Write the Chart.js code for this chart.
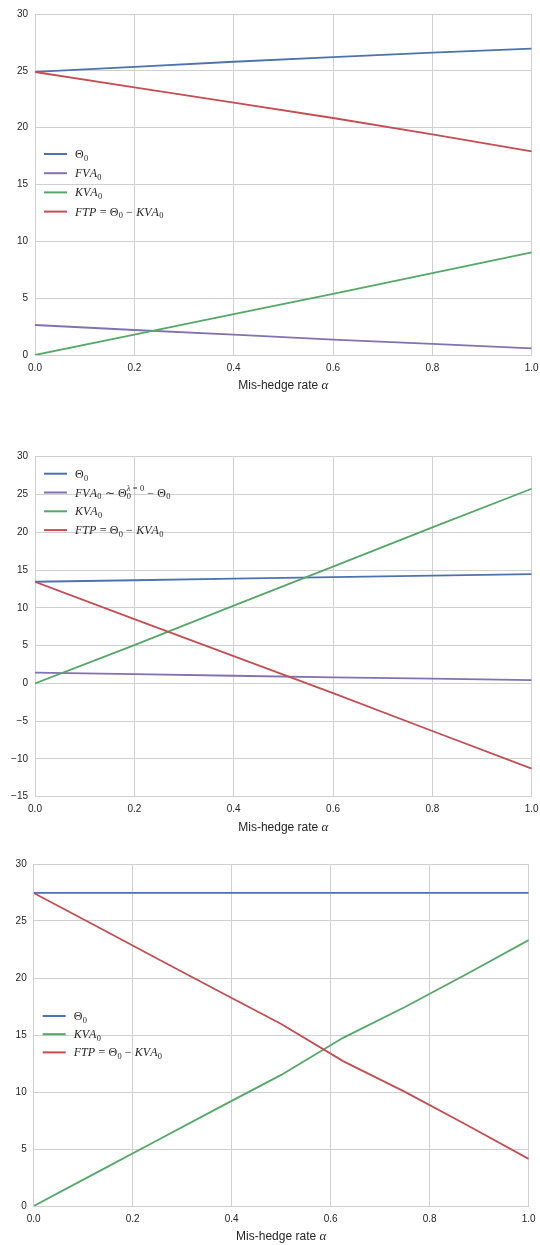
<!DOCTYPE html>
<html>
<head>
<meta charset="utf-8">
<script src="https://cdn.jsdelivr.net/npm/chart.js@4.4.0/dist/chart.umd.min.js"></script>
<style>
  html, body { margin: 0; padding: 0; background: #fff; }
  body { width: 540px; height: 1245px; position: relative; overflow: hidden; }
  canvas { position: absolute; left: 0; }
</style>
</head>
<body>
<canvas id="c1" width="540" height="400" style="top:0px"></canvas>
<canvas id="c2" width="540" height="420" style="top:420px"></canvas>
<canvas id="c3" width="540" height="405" style="top:840px"></canvas>
<script>
'use strict';

// x values (mis-hedge rate alpha)
const alpha  = [0, 0.2, 0.4, 0.6, 0.8, 1.0];
const alpha3 = [0, 0.125, 0.25, 0.375, 0.5, 0.625, 0.75, 0.875, 1.0];
const xTicks = [0, 0.2, 0.4, 0.6, 0.8, 1.0];
const xLabel = 'Mis-hedge rate ';
const xLabelSym = 'α';

// panel 1
const theta1 = [24.9, 25.35, 25.8, 26.2, 26.6, 26.95];
const fva1   = [2.64, 2.2, 1.79, 1.36, 0.97, 0.59];
const kva1   = [0, 1.8, 3.6, 5.37, 7.2, 9.03];
const ftp1   = [24.9, 23.55, 22.2, 20.85, 19.4, 17.92];
const labels1 = ['$\\Theta_0$', '$FVA_0$', '$KVA_0$', '$FTP = \\Theta_0 - KVA_0$'];

// panel 2
const theta2 = [13.45, 13.65, 13.85, 14.07, 14.27, 14.47];
const fva2   = [1.41, 1.21, 1.01, 0.8, 0.62, 0.44];
const kva2   = [0, 5.07, 10.28, 15.44, 20.64, 25.76];
const ftp2   = [13.45, 8.5, 3.6, -1.3, -6.3, -11.29];
const labels2 = ['$\\Theta_0$', '$FVA_0 \\sim \\Theta_0^{\\lambda=0} - \\Theta_0$', '$KVA_0$', '$FTP = \\Theta_0 - KVA_0$'];

// panel 3
const theta3 = [27.46, 27.46, 27.46, 27.46, 27.46, 27.46, 27.46, 27.46, 27.46];
const kva3   = [0, 2.88, 5.77, 8.65, 11.5, 14.75, 17.45, 20.35, 23.33];
const ftp3   = [27.46, 24.58, 21.69, 18.81, 15.96, 12.71, 10.01, 7.11, 4.13];
const labels3 = ['$\\Theta_0$', '$KVA_0$', '$FTP = \\Theta_0 - KVA_0$'];

const BLUE = '#4C72B0', GREEN = '#55A868', RED = '#C44E52', PURPLE = '#8172B2';
const TXT  = '#262626';
const GRID = '#d0d0d0';

// tiny mathtext-ish renderer
function texAtoms(src) {
  const s = src.replace(/\$/g, '')
    .replace(/\\Theta/g, 'Θ').replace(/\\lambda/g, 'λ').replace(/\\sim/g, '∼')
    .replace(/-/g, '−');
  const atoms = [];
  let i = 0;
  const group = () => {
    if (s[i] === '{') { const j = s.indexOf('}', i); const g = s.slice(i + 1, j); i = j + 1; return g; }
    return s[i++];
  };
  while (i < s.length) {
    const c = s[i++];
    if (c === ' ') continue;
    if (c === '_') { atoms[atoms.length - 1].sub = group(); continue; }
    if (c === '^') { atoms[atoms.length - 1].sup = group(); continue; }
    atoms.push({ ch: c, op: '=−∼+'.includes(c), italic: /[A-Za-zλ]/.test(c) });
  }
  return atoms;
}

function drawTex(ctx, src, x, y, size) {
  let cx = x;
  for (const a of texAtoms(src)) {
    const gap = a.op ? size * 0.28 : 0;
    cx += gap;
    ctx.font = `${a.italic ? 'italic ' : ''}${size}px "Liberation Serif", serif`;
    ctx.fillText(a.ch, cx, y);
    cx += ctx.measureText(a.ch).width + gap;
    let sw = 0;
    if (a.sub) sw = Math.max(sw, drawTex(ctx, a.sub, cx + 0.3, y + size * 0.24, size * 0.7));
    if (a.sup) sw = Math.max(sw, drawTex(ctx, a.sup, cx + 0.3, y - size * 0.45, size * 0.7));
    cx += sw;
  }
  return cx - x;
}

// legend inside the axes + x label with italic alpha
const decorPlugin = {
  id: 'decor',
  afterDraw(chart, args, opts) {
    const { ctx, chartArea: a } = chart;
    ctx.save();
    ctx.fillStyle = TXT;
    ctx.textBaseline = 'alphabetic';
    ctx.textAlign = 'left';
    chart.data.datasets.forEach((ds, i) => {
      const y = a.top + opts.legendTop + i * opts.legendGap;
      ctx.strokeStyle = ds.borderColor;
      ctx.lineWidth = 2;
      ctx.beginPath();
      ctx.moveTo(a.left + 9, y);
      ctx.lineTo(a.left + 32, y);
      ctx.stroke();
      drawTex(ctx, ds.label, a.left + 40, y + 4, 12);
    });
    // x axis title
    ctx.font = '12px "Liberation Sans", Arial, sans-serif';
    const w1 = ctx.measureText(xLabel).width;
    ctx.font = 'italic 13px "Liberation Serif", serif';
    const w2 = ctx.measureText(xLabelSym).width;
    const x0 = (a.left + a.right) / 2 - (w1 + w2) / 2;
    const yb = a.bottom + 34;
    ctx.font = '12px "Liberation Sans", Arial, sans-serif';
    ctx.fillText(xLabel, x0, yb);
    ctx.font = 'italic 13px "Liberation Serif", serif';
    ctx.fillText(xLabelSym, x0 + w1, yb);
    ctx.restore();
  },
};

function pts(xs, ys) { return xs.map((x, i) => ({ x, y: ys[i] })); }

function ds(label, xs, ys, color, order) {
  return {
    label, data: pts(xs, ys), borderColor: color, backgroundColor: color,
    borderWidth: 1.8, pointRadius: 0, tension: 0, fill: false, order,
  };
}

function makeChart(id, datasets, cfg) {
  const canvas = document.getElementById(id);
  return new Chart(canvas, {
    type: 'line',
    data: { datasets },
    plugins: [decorPlugin],
    options: {
      responsive: false,
      animation: false,
      devicePixelRatio: 1,
      layout: { padding: { left: 0, right: cfg.padRight, top: cfg.padTop, bottom: 0 } },
      plugins: {
        legend: { display: false },
        tooltip: { enabled: false },
        decor: { legendTop: cfg.legendTop, legendGap: cfg.legendGap },
      },
      scales: {
        x: {
          type: 'linear', min: 0, max: 1,
          afterBuildTicks: s => { s.ticks = xTicks.map(v => ({ value: v })); },
          afterFit: s => { s.height = cfg.xHeight; s.paddingLeft = 0; s.paddingRight = 0; },
          ticks: {
            color: TXT, padding: 7,
            font: { family: '"Liberation Sans", Arial, sans-serif', size: 10 },
            callback: v => Number(v).toFixed(1),
            maxRotation: 0,
          },
          grid: { color: GRID, lineWidth: 1, drawTicks: false },
          border: { color: GRID, width: 1 },
        },
        y: {
          min: cfg.yMin, max: 30,
          afterFit: s => { s.width = cfg.yWidth; s.paddingTop = 0; s.paddingBottom = 0; },
          ticks: {
            stepSize: 5, color: TXT, padding: 7,
            font: { family: '"Liberation Sans", Arial, sans-serif', size: 10 },
            callback: v => (v < 0 ? '−' + Math.abs(v) : String(v)),
          },
          grid: { color: GRID, lineWidth: 1, drawTicks: false },
          border: { color: GRID, width: 1 },
        },
      },
    },
  });
}

makeChart('c1', [
  ds(labels1[0], alpha, theta1, BLUE, 3),
  ds(labels1[1], alpha, fva1, PURPLE, 2),
  ds(labels1[2], alpha, kva1, GREEN, 1),
  ds(labels1[3], alpha, ftp1, RED, 0),
], { padTop: 14, padRight: 8.3, yWidth: 35, xHeight: 45, yMin: 0, legendTop: 140, legendGap: 19.2 });

makeChart('c2', [
  ds(labels2[0], alpha, theta2, BLUE, 3),
  ds(labels2[1], alpha, fva2, PURPLE, 2),
  ds(labels2[2], alpha, kva2, GREEN, 1),
  ds(labels2[3], alpha, ftp2, RED, 0),
], { padTop: 36.7, padRight: 8.3, yWidth: 35, xHeight: 43.3, yMin: -15, legendTop: 17, legendGap: 18.8 });

makeChart('c3', [
  ds(labels3[0], alpha3, theta3, BLUE, 2),
  ds(labels3[1], alpha3, kva3, GREEN, 1),
  ds(labels3[2], alpha3, ftp3, RED, 0),
], { padTop: 24, padRight: 11.3, yWidth: 33.7, xHeight: 39, yMin: 0, legendTop: 152, legendGap: 18.2 });
</script>
</body>
</html>
